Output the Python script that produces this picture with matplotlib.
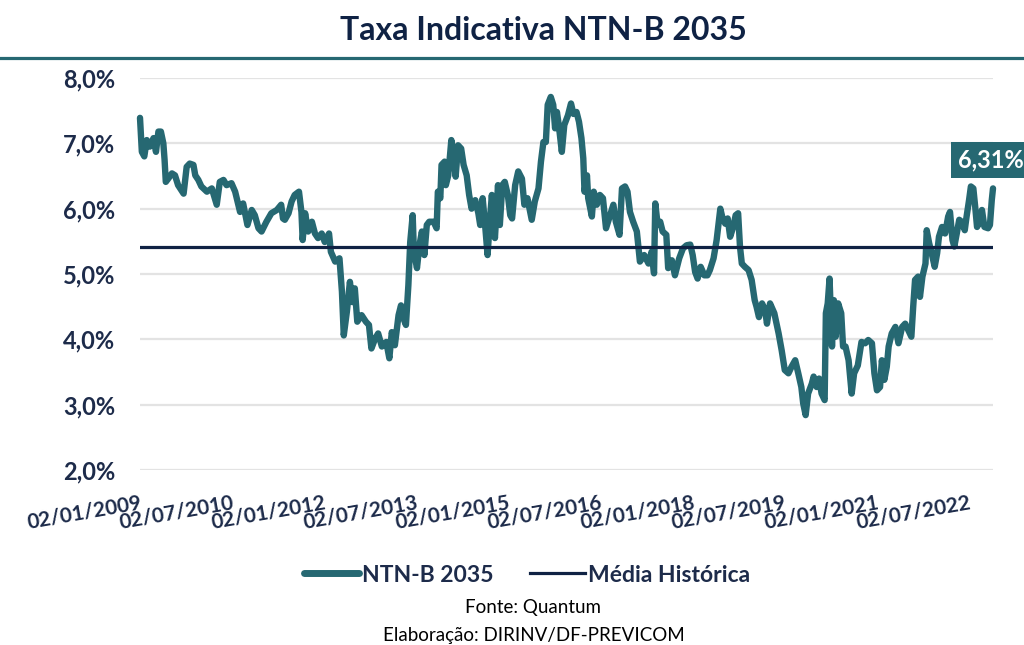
import numpy as np
import pandas as pd
import matplotlib
matplotlib.use("Agg")
import matplotlib.pyplot as plt
import matplotlib.dates as mdates
from matplotlib.lines import Line2D
from matplotlib.patches import Rectangle

plt.rcParams["font.family"] = ["Lato", "DejaVu Sans"]

# decimal-year positions and NTN-B 2035 yields (%)
anos = [
    2009.00, 2009.03, 2009.07, 2009.11, 2009.16, 2009.22, 2009.26, 2009.30, 2009.34, 2009.38,
    2009.40, 2009.42, 2009.46, 2009.52, 2009.57, 2009.62, 2009.71, 2009.76, 2009.81, 2009.87,
    2009.90, 2009.95, 2010.00, 2010.09, 2010.17, 2010.25, 2010.30, 2010.36, 2010.41, 2010.49,
    2010.55, 2010.63, 2010.68, 2010.75, 2010.82, 2010.87, 2010.93, 2010.98, 2011.06, 2011.14,
    2011.23, 2011.30, 2011.33, 2011.36, 2011.42, 2011.47, 2011.52, 2011.59, 2011.63, 2011.65,
    2011.69, 2011.74, 2011.80, 2011.85, 2011.90, 2011.96, 2012.01, 2012.08, 2012.11, 2012.18,
    2012.25, 2012.29, 2012.32, 2012.37, 2012.42, 2012.46, 2012.50, 2012.54, 2012.61, 2012.68,
    2012.73, 2012.77, 2012.83, 2012.88, 2012.94, 2013.01, 2013.06, 2013.10, 2013.15, 2013.21,
    2013.25, 2013.29, 2013.33, 2013.37, 2013.40, 2013.44, 2013.46, 2013.51, 2013.55, 2013.59,
    2013.63, 2013.67, 2013.71, 2013.78, 2013.83, 2013.85, 2013.89, 2013.91, 2013.96, 2013.98,
    2014.02, 2014.07, 2014.10, 2014.14, 2014.18, 2014.23, 2014.27, 2014.32, 2014.36, 2014.40,
    2014.46, 2014.51, 2014.54, 2014.58, 2014.62, 2014.66, 2014.70, 2014.73, 2014.78, 2014.83,
    2014.86, 2014.90, 2014.94, 2014.99, 2015.03, 2015.06, 2015.11, 2015.16, 2015.22, 2015.26,
    2015.31, 2015.38, 2015.43, 2015.49, 2015.53, 2015.57, 2015.61, 2015.64, 2015.69, 2015.73,
    2015.76, 2015.79, 2015.82, 2015.87, 2015.91, 2015.97, 2016.02, 2016.06, 2016.11, 2016.15,
    2016.19, 2016.22, 2016.24, 2016.28, 2016.30, 2016.36, 2016.39, 2016.44, 2016.49, 2016.54,
    2016.59, 2016.64, 2016.71, 2016.75, 2016.81, 2016.85, 2016.90, 2016.94, 2016.98, 2017.03,
    2017.09, 2017.14, 2017.21, 2017.28, 2017.33, 2017.37, 2017.39, 2017.43, 2017.47, 2017.51,
    2017.57, 2017.60, 2017.66, 2017.71, 2017.78, 2017.84, 2017.90, 2017.96, 2018.00, 2018.04,
    2018.08, 2018.13, 2018.19, 2018.24, 2018.28, 2018.34, 2018.39, 2018.45, 2018.48, 2018.53,
    2018.57, 2018.61, 2018.66, 2018.70, 2018.74, 2018.77, 2018.80, 2018.85, 2018.91, 2018.96,
    2019.01, 2019.04, 2019.08, 2019.13, 2019.18, 2019.21, 2019.26, 2019.33, 2019.40, 2019.45,
    2019.50, 2019.56, 2019.61, 2019.67, 2019.72, 2019.77, 2019.80, 2019.84, 2019.88, 2019.94,
    2019.97, 2020.02, 2020.06, 2020.10, 2020.15, 2020.17, 2020.20, 2020.23, 2020.27, 2020.30,
    2020.33, 2020.37, 2020.42, 2020.45, 2020.49, 2020.54, 2020.59, 2020.63, 2020.69, 2020.75,
    2020.81, 2020.86, 2020.92, 2020.96, 2021.00, 2021.05, 2021.08, 2021.12, 2021.16, 2021.19,
    2021.24, 2021.30, 2021.35, 2021.41, 2021.46, 2021.51, 2021.56, 2021.59, 2021.62, 2021.67,
    2021.70, 2021.74, 2021.79, 2021.81, 2021.85, 2021.89, 2021.94, 2021.98, 2022.01, 2022.06,
    2022.11, 2022.16, 2022.19, 2022.23, 2022.26, 2022.30, 2022.34, 2022.38, 2022.43, 2022.46,
    2022.50, 2022.53, 2022.57, 2022.60, 2022.63, 2022.66, 2022.71, 2022.75, 2022.81, 2022.84,
    2022.87, 2022.89,
]
taxa = [
    7.39, 6.87, 6.80, 7.05, 6.95, 7.08, 6.87, 7.18, 7.18, 7.00,
    6.75, 6.41, 6.46, 6.54, 6.51, 6.36, 6.23, 6.64, 6.69, 6.67,
    6.51, 6.44, 6.34, 6.26, 6.31, 6.06, 6.41, 6.44, 6.36, 6.39,
    6.26, 5.95, 6.08, 5.75, 5.98, 5.90, 5.70, 5.65, 5.80, 5.93,
    5.98, 6.06, 5.85, 5.83, 5.93, 6.11, 6.21, 6.26, 5.95, 5.52,
    5.93, 5.65, 5.80, 5.62, 5.55, 5.62, 5.49, 5.62, 5.34, 5.19,
    5.24, 4.73, 4.06, 4.42, 4.88, 4.57, 4.78, 4.27, 4.37, 4.27,
    4.22, 3.86, 4.01, 4.09, 3.89, 3.96, 3.71, 4.11, 3.91, 4.37,
    4.52, 4.32, 4.22, 4.83, 5.49, 5.90, 5.34, 5.09, 5.44, 5.65,
    5.29, 5.75, 5.80, 5.80, 5.70, 6.26, 6.16, 6.67, 6.72, 6.36,
    6.51, 7.05, 6.87, 6.49, 6.97, 6.92, 6.67, 6.51, 6.21, 6.00,
    6.13, 5.93, 5.75, 6.16, 5.75, 5.29, 5.85, 6.21, 5.55, 6.36,
    5.75, 6.36, 6.41, 6.21, 5.90, 5.85, 6.36, 6.57, 6.46, 6.06,
    6.16, 5.83, 6.11, 6.31, 6.72, 7.02, 7.02, 7.59, 7.71, 7.59,
    7.23, 7.48, 7.28, 6.87, 7.28, 7.43, 7.61, 7.45, 7.48, 7.33,
    7.08, 6.77, 6.26, 6.51, 6.16, 5.88, 6.26, 6.06, 6.21, 6.16,
    5.70, 5.85, 6.06, 5.80, 5.60, 6.31, 6.34, 6.26, 5.95, 5.80,
    5.65, 5.19, 5.29, 5.16, 5.34, 5.01, 6.08, 5.75, 5.80, 5.65,
    5.60, 5.09, 5.21, 4.98, 5.24, 5.39, 5.44, 5.45, 5.29, 5.03,
    4.93, 5.11, 4.98, 4.98, 5.06, 5.24, 5.52, 6.00, 5.88, 5.77,
    5.85, 5.57, 5.72, 5.90, 5.93, 5.42, 5.16, 5.11, 5.06, 4.91,
    4.60, 4.50, 4.34, 4.55, 4.45, 4.24, 4.55, 4.40, 4.09, 3.83,
    3.53, 3.48, 3.58, 3.68, 3.48, 3.27, 3.02, 2.84, 3.17, 3.32,
    3.43, 3.27, 3.40, 3.17, 3.07, 4.40, 4.55, 4.93, 3.89, 4.60,
    4.04, 4.55, 4.40, 3.89, 3.89, 3.68, 3.17, 3.48, 3.60, 3.96,
    3.94, 3.99, 3.94, 3.48, 3.22, 3.27, 3.68, 3.38, 3.58, 3.89,
    4.09, 4.19, 3.94, 4.19, 4.24, 4.14, 4.04, 4.50, 4.91, 4.96,
    4.65, 4.96, 5.16, 5.67, 5.47, 5.32, 5.11, 5.32, 5.57, 5.72,
    5.62, 5.88, 5.95, 5.52, 5.42, 5.62, 5.83, 5.80, 5.67, 5.88,
    6.13, 6.34, 6.31, 6.03, 5.72, 5.77, 5.98, 5.72, 5.70, 5.75,
    6.13, 6.31,
]
media_historica = 5.41
tick_labels = ["02/01/2009", "02/07/2010", "02/01/2012", "02/07/2013", "02/01/2015",
               "02/07/2016", "02/01/2018", "02/07/2019", "02/01/2021", "02/07/2022"]
y_ticks = [2, 3, 4, 5, 6, 7, 8]

TEAL = "#266872"
NAVY = "#0f2244"
TXT = "#1d2b4a"


def decimal_to_date(t):
    year = int(t)
    start = pd.Timestamp(year=year, month=1, day=2)
    return start + pd.Timedelta(days=(t - year) * 365.25)


datas = [decimal_to_date(t) for t in anos]
tick_dates = pd.to_datetime(tick_labels, dayfirst=True)

fig = plt.figure(figsize=(10.24, 6.45), dpi=100)
ax = fig.add_axes([140 / 1024, 1 - 470 / 645, 853 / 1024, 392 / 645])

ax.plot(datas, taxa, color=TEAL, lw=4.6, solid_joinstyle="round", solid_capstyle="round",
        zorder=3, clip_on=False)
ax.axhline(media_historica, color=NAVY, lw=2.3, zorder=4)

ax.set_xlim(datas[0], datas[-1])
ax.set_ylim(2, 8)
ax.set_yticks(y_ticks)
ax.set_yticklabels([f"{v:.1f}%".replace(".", ",") for v in y_ticks])
ax.set_xticks(tick_dates)
ax.set_xticklabels(tick_labels, rotation=10, ha="right", va="top", rotation_mode="anchor")
ax.grid(axis="y", color="#e3e3e3", lw=1.6, zorder=0)
ax.tick_params(axis="y", length=0, pad=18, labelsize=17, labelcolor=TXT)
ax.tick_params(axis="x", length=0, pad=16, labelsize=15, labelcolor=TXT)
for lab in ax.get_xticklabels() + ax.get_yticklabels():
    lab.set_fontweight("bold")
for s in ax.spines.values():
    s.set_visible(False)

# title and rule under it
fig.text(543 / 1024, 1 - 30 / 645, "Taxa Indicativa NTN-B 2035", ha="center", va="center",
         fontsize=23, fontweight="bold", color=NAVY)
fig.add_artist(Line2D([0, 1], [1 - 58 / 645] * 2, color=TEAL, lw=2.3))

# last-value label
fig.add_artist(Rectangle((951 / 1024, 1 - 178 / 645), 90 / 1024, 36 / 645,
                         facecolor=TEAL, edgecolor="none", zorder=5))
fig.text(958 / 1024, 1 - 160 / 645, f"{taxa[-1]:.2f}%".replace(".", ","), ha="left",
         va="center", fontsize=17, fontweight="bold", color="white", zorder=6)

handles = [Line2D([], [], color=TEAL, lw=5, solid_capstyle="round"),
           Line2D([], [], color=NAVY, lw=2.3)]
fig.legend(handles, ["NTN-B 2035", "Média Histórica"], loc="center",
           bbox_to_anchor=(527 / 1024, 1 - 575 / 645), ncol=2, frameon=False,
           handlelength=2.4, handletextpad=0.12, columnspacing=1.6,
           prop={"weight": "bold", "size": 16.5}, labelcolor=TXT)

fig.text(533 / 1024, 1 - 607 / 645, "Fonte: Quantum", ha="center", va="center",
         fontsize=13.5, color="black")
fig.text(534 / 1024, 1 - 635 / 645, "Elaboração: DIRINV/DF-PREVICOM", ha="center",
         va="center", fontsize=13.5, color="black")

fig.savefig("out.png", dpi=100, facecolor="white")
